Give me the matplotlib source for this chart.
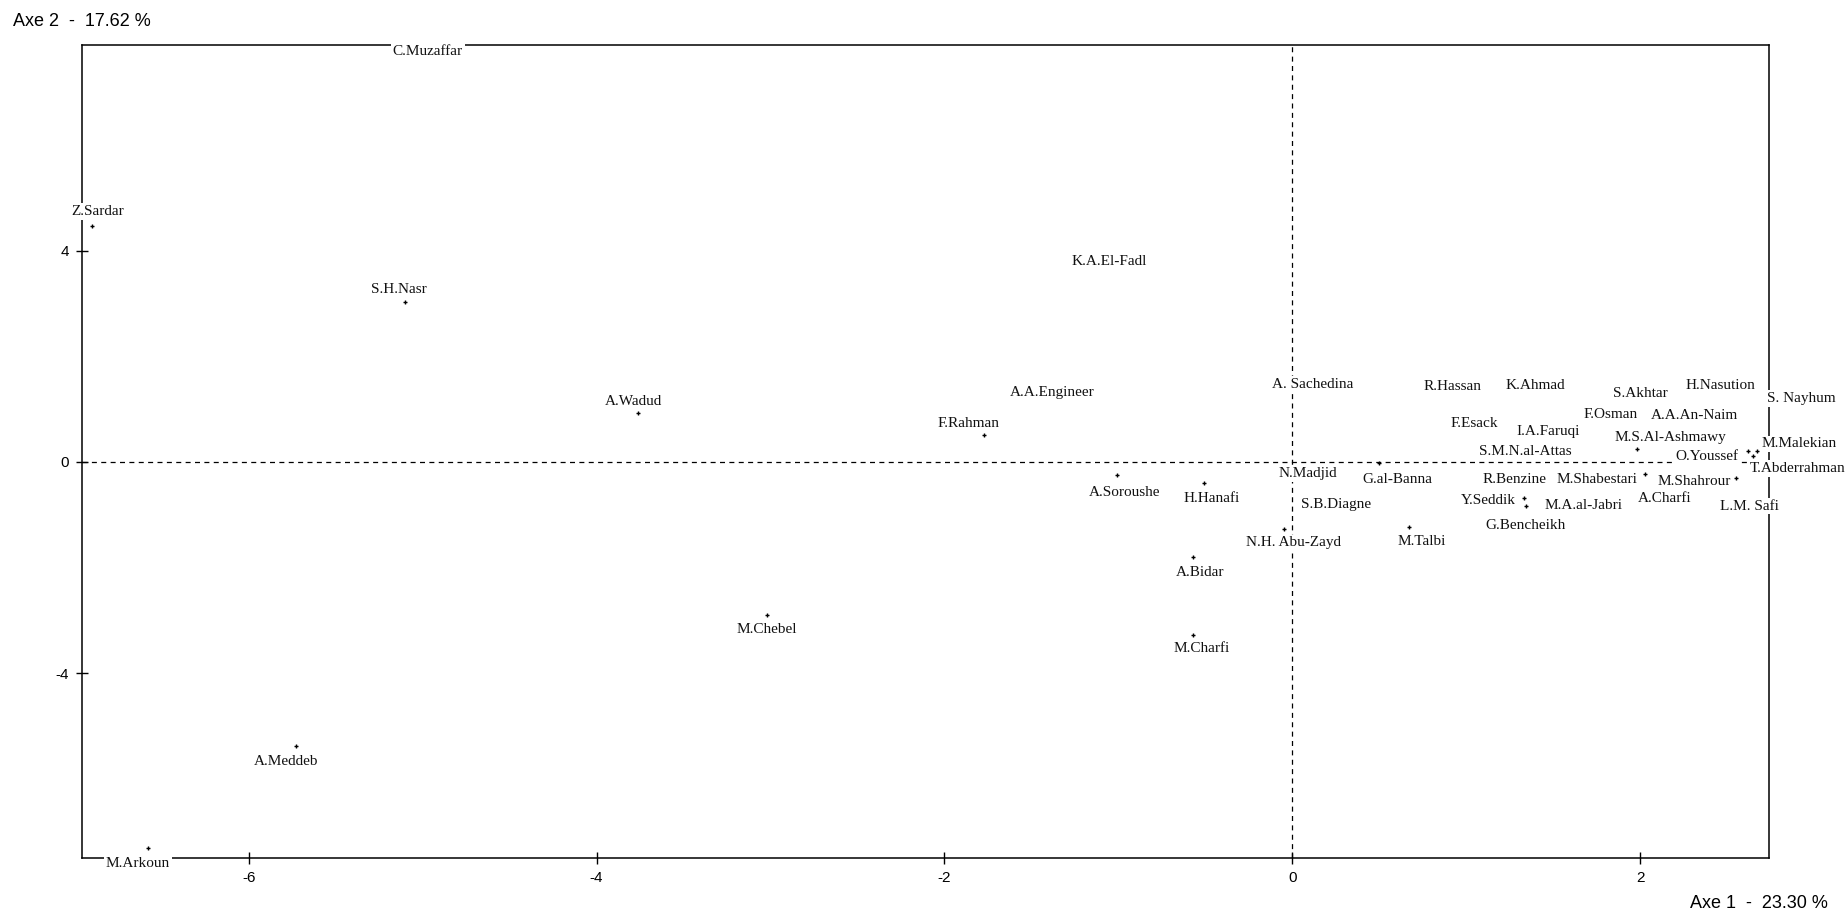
import matplotlib.pyplot as plt

plt.rcParams["axes.unicode_minus"] = False

# Factor map: coordinates of each author on the first two axes
names = [
    "C.Muzaffar", "Z.Sardar", "S.H.Nasr", "A.Wadud", "F.Rahman",
    "A.A.Engineer", "K.A.El-Fadl", "M.Chebel", "A.Meddeb", "M.Arkoun",
    "A.Soroushe", "H.Hanafi", "A.Bidar", "M.Charfi", "N.H. Abu-Zayd",
    "N.Madjid", "S.B.Diagne", "G.al-Banna", "M.Talbi", "A. Sachedina",
    "R.Hassan", "K.Ahmad", "S.Akhtar", "H.Nasution", "S. Nayhum",
    "F.Esack", "I.A.Faruqi", "F.Osman", "A.A.An-Naim", "M.S.Al-Ashmawy",
    "S.M.N.al-Attas", "O.Youssef", "M.Malekian", "T.Abderrahman", "M.Shabestari",
    "M.Shahrour", "A.Charfi", "L.M. Safi", "R.Benzine", "Y.Seddik",
    "M.A.al-Jabri", "G.Bencheikh",
]
axe1 = [
    -4.97, -6.90, -5.10, -3.76, -1.77,
    -1.38, -1.05, -3.02, -5.73, -6.58,
    -1.01, -0.51, -0.57, -0.57, -0.05,
    0.09, 0.25, 0.50, 0.67, 0.12,
    0.92, 1.40, 2.00, 2.46, 2.73,
    1.045, 1.47, 1.83, 2.31, 1.98,
    1.34, 2.62, 2.67, 2.65, 2.03,
    2.55, 2.14, 2.63, 1.275, 1.33,
    1.345, 1.34,
]
axe2 = [
    7.85, 4.47, 3.04, 0.92, 0.51,
    1.38, 3.85, -2.90, -5.38, -7.32,
    -0.25, -0.39, -1.81, -3.28, -1.27,
    -0.17, -0.74, -0.02, -1.23, 1.52,
    1.48, 1.50, 1.36, 1.50, 1.21,
    0.79, 0.63, 0.96, 0.93, 0.24,
    0.25, 0.21, 0.21, 0.11, -0.23,
    -0.31, -0.64, -0.78, -0.27, -0.69,
    -0.83, -1.14,
]

x_ticks = [-6, -4, -2, 0, 2]
y_ticks = [-4, 0, 4]
x_title = "Axe 1  -  23.30 %"
y_title = "Axe 2  -  17.62 %"

# label shift from its point, in pixels (right, down); default sits just over the point
label_shift = {
    "C.Muzaffar": (0, 4), "Z.Sardar": (5, -15), "S.H.Nasr": (-6, -12),
    "A.Wadud": (-5, -12), "F.Rahman": (-16, -12), "M.Chebel": (0, 15),
    "A.Meddeb": (-10, 16), "M.Arkoun": (-10, 15), "A.Soroushe": (8, 17),
    "H.Hanafi": (8, 16), "A.Bidar": (7, 15), "M.Charfi": (8, 13),
    "N.H. Abu-Zayd": (10, 14), "G.al-Banna": (18, 16), "M.Talbi": (13, 15),
    "S. Nayhum": (34, 0), "M.S.Al-Ashmawy": (34, -12), "O.Youssef": (-41, 6),
    "M.Malekian": (43, -7), "T.Abderrahman": (44, 12), "M.Shabestari": (-48, 5),
    "M.Shahrour": (-42, 3), "Y.Seddik": (-35, 2), "M.A.al-Jabri": (57, 0),
}

fig = plt.figure(figsize=(18.49, 9.15), dpi=100)
ax = fig.add_axes([82 / 1849, 57 / 915, (1769 - 82) / 1849, (858 - 45) / 915])

ax.axhline(0, color="black", lw=0.9, ls=(0, (4, 3.5)), zorder=1)
ax.axvline(0, color="black", lw=0.9, ls=(0, (4, 3.5)), zorder=1)

ax.plot(axe1, axe2, ls="none", marker="+", ms=3.5, mew=1, color="black", zorder=2)

for name, x, y in zip(names, axe1, axe2):
    dx, dy = label_shift.get(name, (0, 3))
    ax.annotate(name, (x, y), xytext=(dx, -dy), textcoords="offset pixels",
                ha="center", va="center", fontsize=11, family="Liberation Serif",
                color="#111111", zorder=4,
                bbox=dict(boxstyle="square,pad=0.12", fc="white", ec="none"))

ax.set_xlim(-6.959, 2.741)
ax.set_ylim(-7.507, 7.905)
ax.set_xticks(x_ticks)
ax.set_yticks(y_ticks)
ax.tick_params(direction="inout", length=8.5, width=1, labelsize=11, pad=5,
               colors="black")
for lab in ax.get_xticklabels() + ax.get_yticklabels():
    lab.set_family("Liberation Sans")
for sp in ax.spines.values():
    sp.set_linewidth(1.1)
    sp.set_zorder(3)

fig.text(13 / 1849, 1 - 22 / 915, y_title, ha="left", va="center",
         fontsize=13, family="Liberation Sans")
fig.text(1828 / 1849, 1 - 903 / 915, x_title, ha="right", va="center",
         fontsize=13, family="Liberation Sans")

fig.savefig("out.png", dpi=100)
